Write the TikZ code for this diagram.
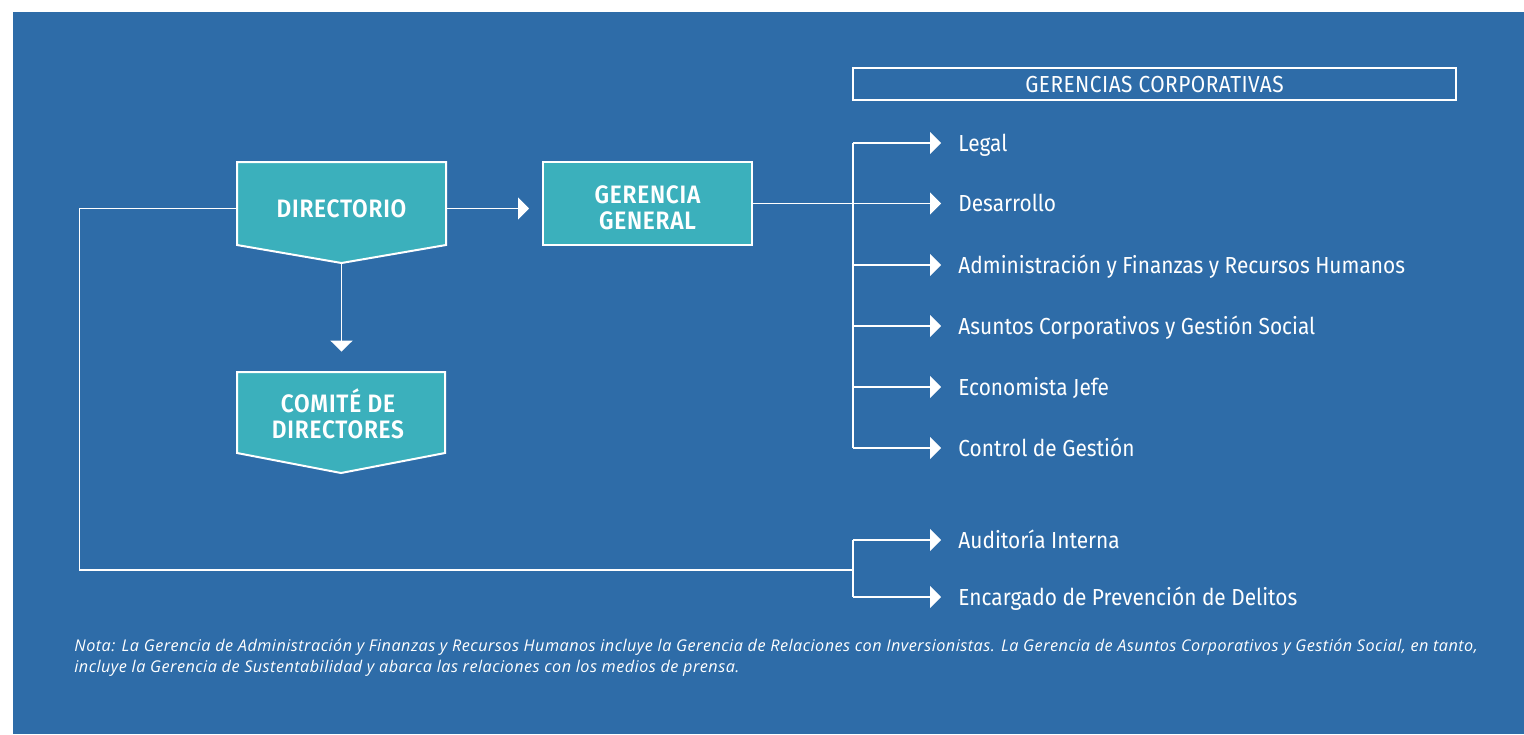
\documentclass[tikz,border=0pt]{standalone}
\usepackage{fontspec}
\setmainfont{Fira Sans}
\newfontfamily\condfont[FakeStretch=0.90]{Fira Sans}
\newfontfamily\headfont[FakeStretch=0.90,LetterSpace=2]{Fira Sans}
\newfontfamily\boxfont[FakeStretch=0.90,LetterSpace=3]{Fira Sans SemiBold}
\newfontfamily\notefont[LetterSpace=3]{Open Sans}
\usepackage{tikz}
\usetikzlibrary{arrows.meta}
\usetikzlibrary{calc}
\definecolor{bgblue}{RGB}{46,108,168}
\definecolor{boxteal}{RGB}{59,176,188}

\begin{document}
\begin{tikzpicture}[
    x=0.5pt, y=-0.5pt,
    wire/.style={white, line width=0.8pt},
    link/.style={wire, ->, >={Triangle[length=5.5pt,width=11pt]}},
    box/.style={minimum width=104.5pt, minimum height=41.5pt, inner sep=0pt, align=center,
        text=white, font=\boxfont\fontsize{12.6}{13}\selectfont},
    solid box/.style={box, draw=white, line width=1pt, fill=boxteal},
    pointed/.style={draw=white, line width=1pt, fill=boxteal, line join=miter},
    gerencia/.style={anchor=west, inner xsep=8.5pt, inner ysep=0pt, text height=8pt, text depth=0pt,
        text=white, font=\condfont\fontsize{11.6}{14}\selectfont},
    header/.style={draw=white, line width=0.9pt, minimum width=301.5pt, minimum height=16pt,
        inner sep=0pt, text height=8pt, text depth=0pt, text=white, font=\headfont\fontsize{11.6}{13}\selectfont},
    note/.style={anchor=north west, inner sep=0pt, align=left, text=white,
        font=\notefont\itshape\fontsize{8.1}{10.5}\selectfont}
    ]

    % frame
    \useasboundingbox (0,0) rectangle (1524,734);
    \fill[bgblue] (13,12) rectangle (1524,734);

    % directorio, comite
    \draw[pointed] (237,162) -- (446,162) -- (446,245) -- (341.5,263) -- (237,245) -- cycle;
    \draw[pointed] (237,372) -- (445,372) -- (445,453) -- (341,473) -- (237,453) -- cycle;
    \node[box] (dir) at (341.5,208.5) {DIRECTORIO};
    \node[box] (comite) at (338,413.5) {COMITÉ DE\\DIRECTORES};
    \coordinate (dirtip) at (341.5,263);
    \node[solid box] (gg) at (647.5,203.5) {\rule{0pt}{13pt}GERENCIA\\GENERAL};

    % gerencias corporativas
    \node[header] (corp) at (1154.5,84) {GERENCIAS CORPORATIVAS};
    \node[gerencia] (legal) at (941,143) {Legal};
    \node[gerencia] (desarrollo) at (941,203.5) {Desarrollo};
    \node[gerencia] (admin) at (941,265) {Administración y Finanzas y Recursos Humanos};
    \node[gerencia] (asuntos) at (941,326) {Asuntos Corporativos y Gestión Social};
    \node[gerencia] (economista) at (941,387) {Economista Jefe};
    \node[gerencia] (control) at (941,448) {Control de Gestión};
    \node[gerencia] (auditoria) at (941,540) {Auditoría Interna};
    \node[gerencia] (encargado) at (941,597) {Encargado de Prevención de Delitos};
    \coordinate (bus) at (853,143);
    \coordinate (lowbus) at (853,570);

    % links
    \draw[link, shorten >=6.5pt] (dir.east) -- (dir.east -| gg.west);
    \draw[link, shorten >=10pt] (dirtip) -- (dirtip |- comite.north);
    \draw[wire] (bus |- legal.west) -- (bus |- control.west);
    \draw[link] (gg.east) -- (desarrollo.west);
    \draw[link] (bus |- legal.west) -- (legal.west);
    \draw[link] (bus |- admin.west) -- (admin.west);
    \draw[link] (bus |- asuntos.west) -- (asuntos.west);
    \draw[link] (bus |- economista.west) -- (economista.west);
    \draw[link] (bus |- control.west) -- (control.west);
    % loop to auditoria
    \draw[wire] (dir.west) -- ++(-157,0) |- (lowbus);
    \draw[wire] (lowbus |- auditoria.west) -- (lowbus |- encargado.west);
    \draw[link] (lowbus |- auditoria.west) -- (auditoria.west);
    \draw[link] (lowbus |- encargado.west) -- (encargado.west);

    % nota
    \node[note] (nota) at (74,639) {Nota: La Gerencia de Administración y Finanzas y Recursos Humanos incluye la Gerencia de Relaciones con Inversionistas. La Gerencia de Asuntos Corporativos y Gestión Social, en tanto,\\incluye la Gerencia de Sustentabilidad y abarca las relaciones con los medios de prensa.};

\end{tikzpicture}
\end{document}
